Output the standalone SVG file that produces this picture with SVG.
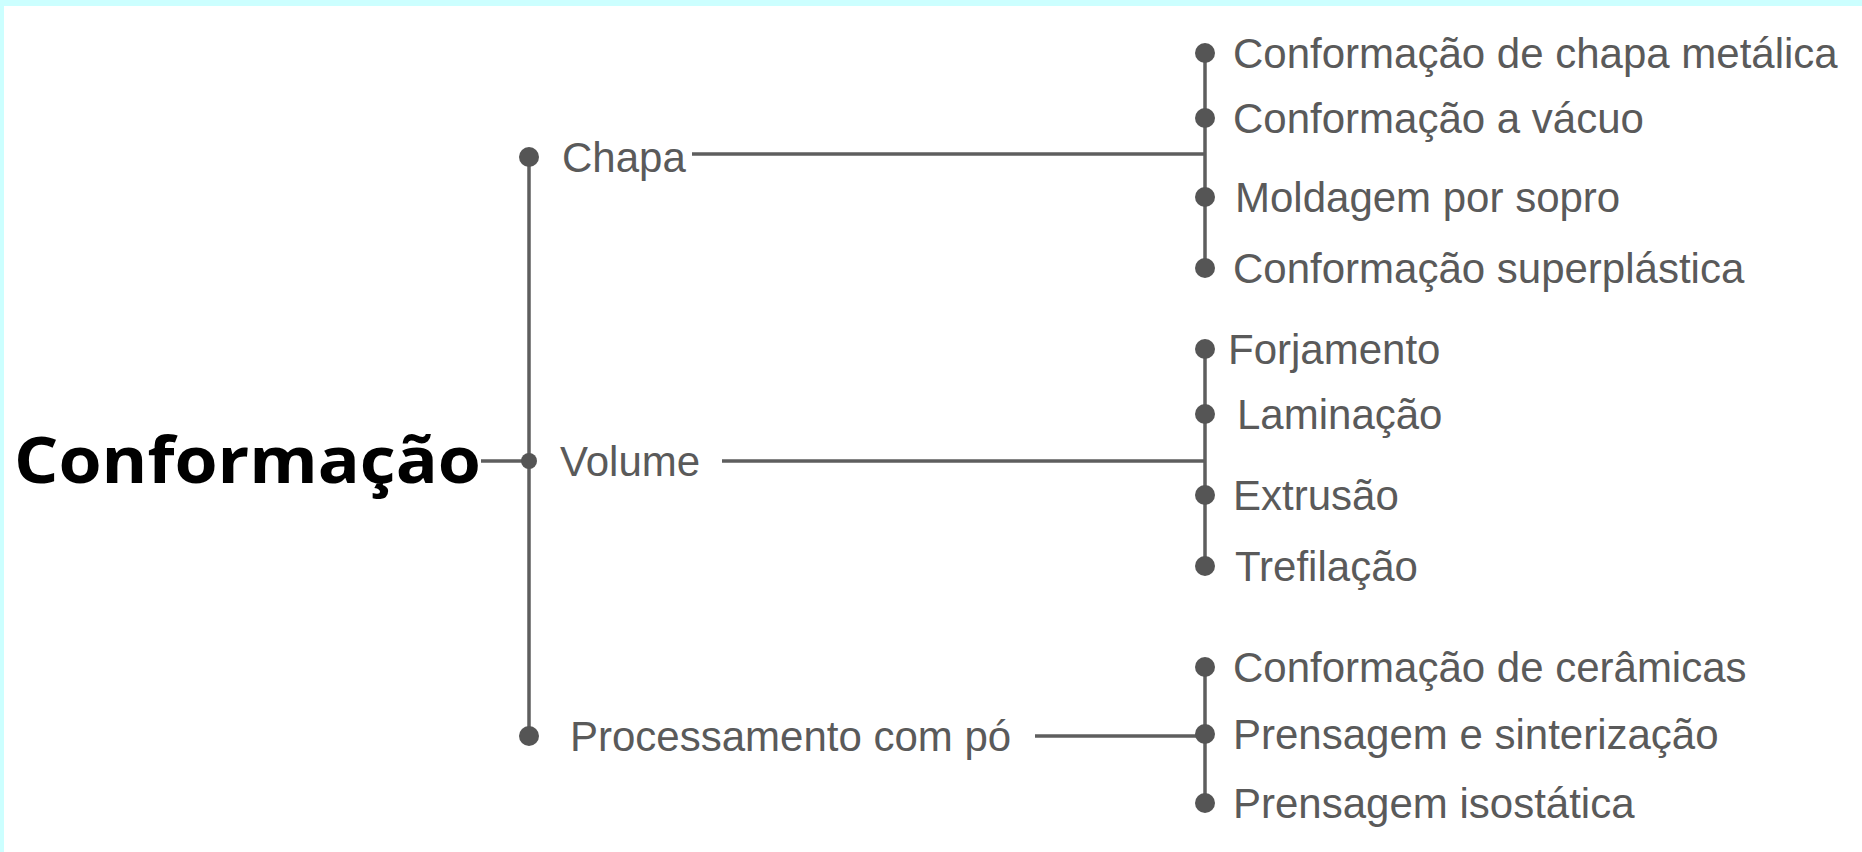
<svg xmlns="http://www.w3.org/2000/svg" width="1862" height="852" viewBox="0 0 1862 852">
<style>
.bg{fill:#ffffff}
.bd{fill:#ccffff}
.ln{stroke:#5e5e5e;stroke-width:3.5;fill:none}
.dot{fill:#555555}
.t{font-family:"Liberation Sans",Arial,sans-serif;font-size:42px;fill:#5a5a5a}
.root{font-family:"Open Sans","Noto Sans",sans-serif;font-weight:700;font-size:64px;fill:#000000}
</style>
<rect class="bg" x="0" y="0" width="1862" height="852"/>
<rect class="bd" x="0" y="0" width="1862" height="6"/>
<rect class="bd" x="0" y="0" width="4" height="852"/>
<g id="connectors">
<line class="ln" x1="481" y1="461" x2="529" y2="461"/>
<line class="ln" x1="529" y1="157" x2="529" y2="736"/>
<line class="ln" x1="692" y1="154" x2="1205" y2="154"/>
<line class="ln" x1="722" y1="461" x2="1205" y2="461"/>
<line class="ln" x1="1035" y1="736" x2="1205" y2="736"/>
<line class="ln" x1="1205" y1="53" x2="1205" y2="268"/>
<line class="ln" x1="1205" y1="349" x2="1205" y2="566"/>
<line class="ln" x1="1205" y1="667" x2="1205" y2="803"/>
</g>
<g id="n-conformacao"><text class="root" x="14" y="483" textLength="467" lengthAdjust="spacingAndGlyphs">Conformação</text></g>
<g id="n-chapa"><circle class="dot" cx="529" cy="157" r="10"/><text class="t" x="562" y="172">Chapa</text></g>
<g id="n-volume"><circle class="dot" cx="529" cy="461" r="8"/><text class="t" x="560" y="476">Volume</text></g>
<g id="n-po"><circle class="dot" cx="529" cy="736" r="10"/><text class="t" x="570" y="751">Processamento com pó</text></g>
<g id="n-c1"><circle class="dot" cx="1205" cy="53" r="10"/><text class="t" x="1233" y="68">Conformação de chapa metálica</text></g>
<g id="n-c2"><circle class="dot" cx="1205" cy="118" r="10"/><text class="t" x="1233" y="133">Conformação a vácuo</text></g>
<g id="n-c3"><circle class="dot" cx="1205" cy="197" r="10"/><text class="t" x="1235" y="212">Moldagem por sopro</text></g>
<g id="n-c4"><circle class="dot" cx="1205" cy="268" r="10"/><text class="t" x="1233" y="283">Conformação superplástica</text></g>
<g id="n-v1"><circle class="dot" cx="1205" cy="349" r="10"/><text class="t" x="1228" y="364">Forjamento</text></g>
<g id="n-v2"><circle class="dot" cx="1205" cy="414" r="10"/><text class="t" x="1237" y="429">Laminação</text></g>
<g id="n-v3"><circle class="dot" cx="1205" cy="495" r="10"/><text class="t" x="1233" y="510">Extrusão</text></g>
<g id="n-v4"><circle class="dot" cx="1205" cy="566" r="10"/><text class="t" x="1235" y="581">Trefilação</text></g>
<g id="n-p1"><circle class="dot" cx="1205" cy="667" r="10"/><text class="t" x="1233" y="682">Conformação de cerâmicas</text></g>
<g id="n-p2"><circle class="dot" cx="1205" cy="734" r="10"/><text class="t" x="1233" y="749">Prensagem e sinterização</text></g>
<g id="n-p3"><circle class="dot" cx="1205" cy="803" r="10"/><text class="t" x="1233" y="818">Prensagem isostática</text></g>
</svg>
